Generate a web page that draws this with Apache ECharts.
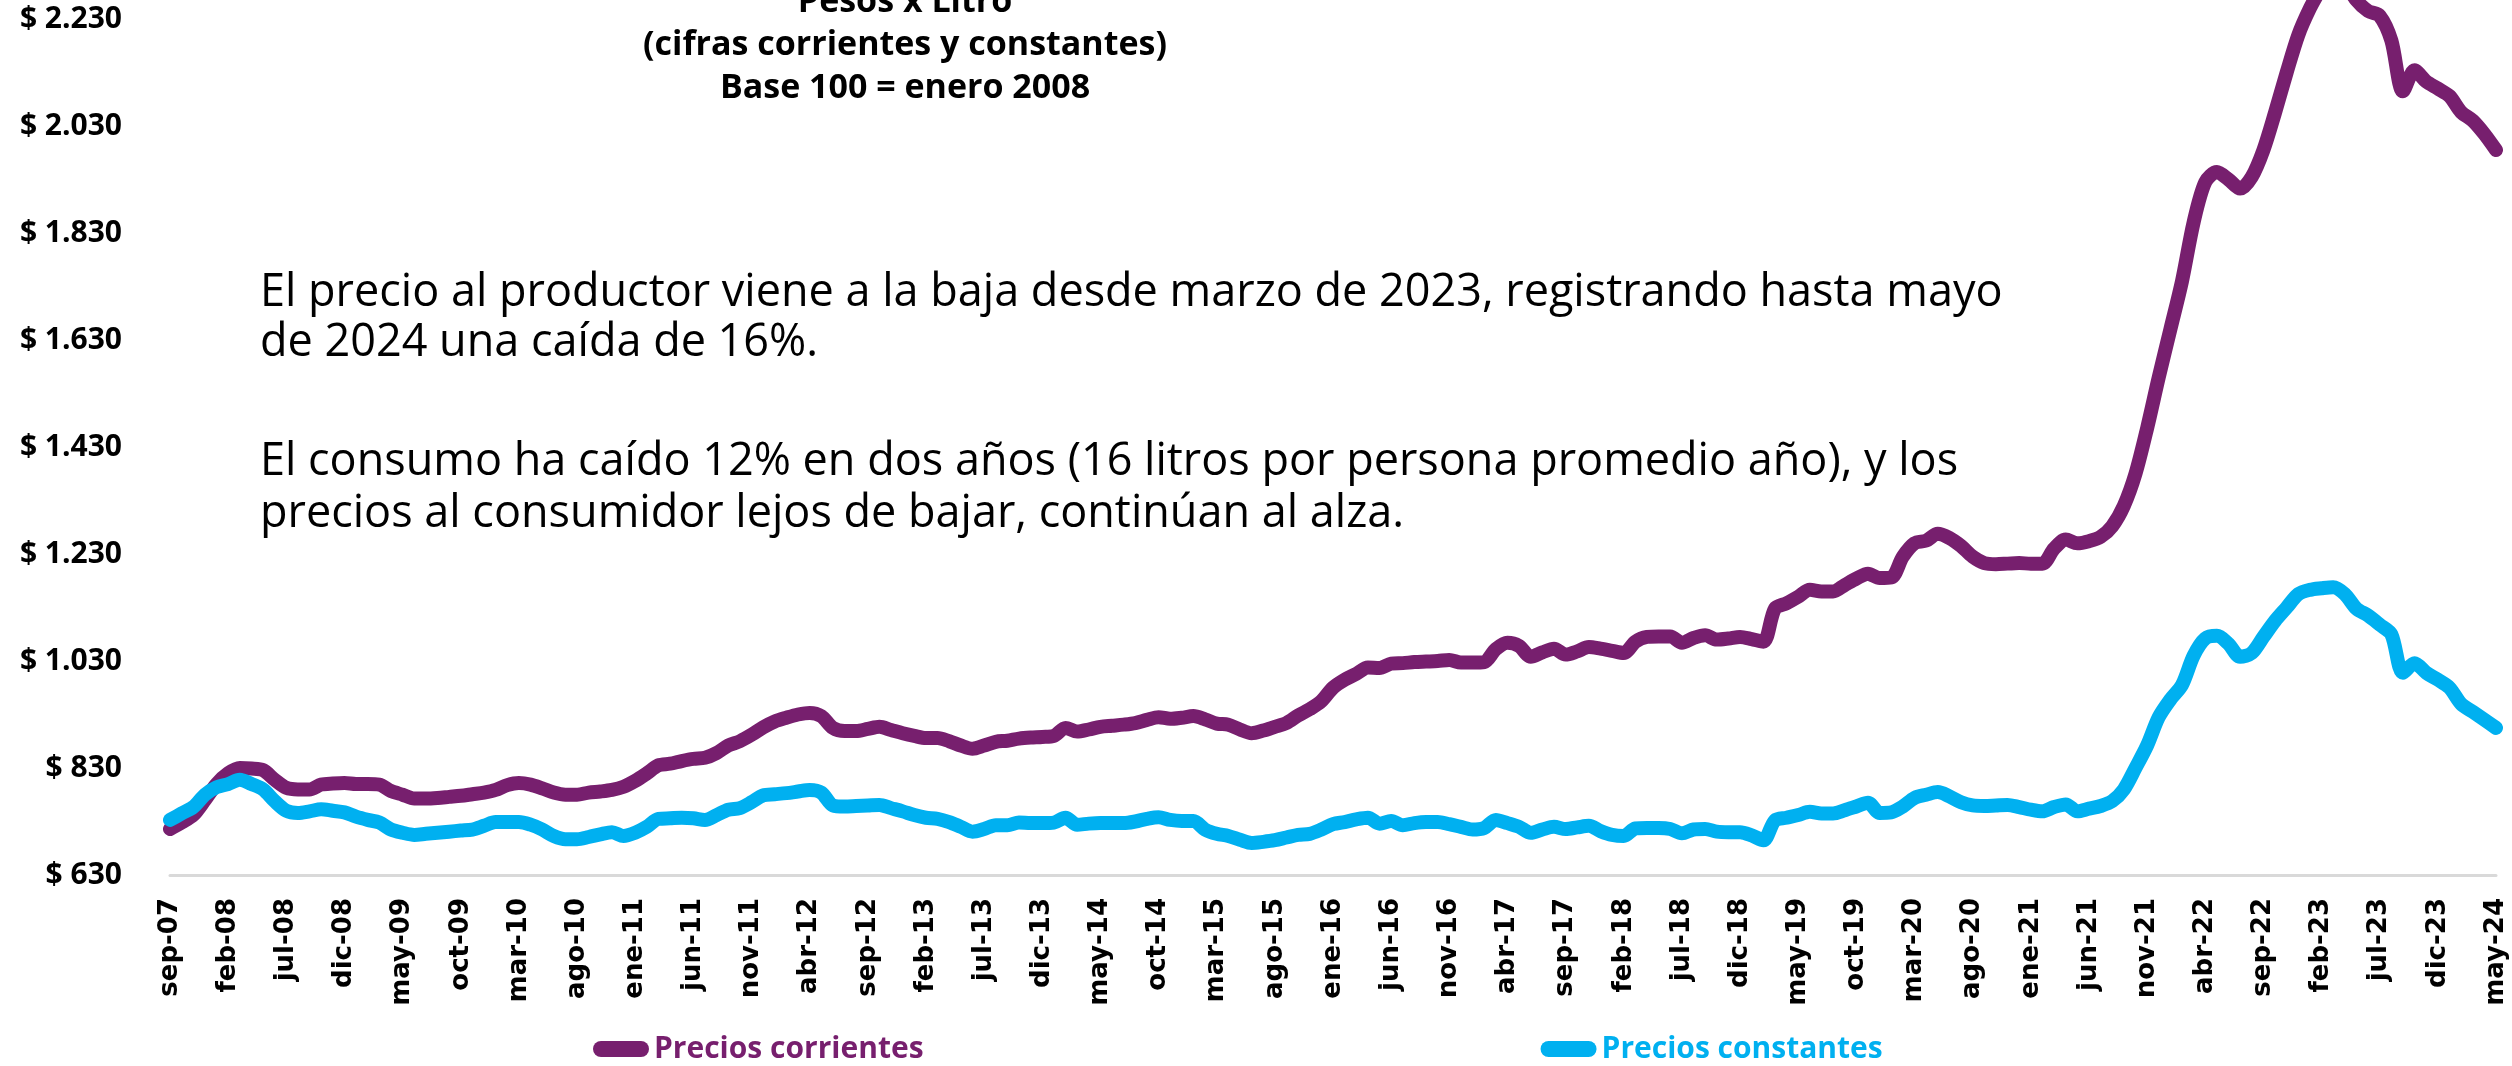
<!DOCTYPE html>
<html>
<head>
<meta charset="utf-8">
<title>Precios leche</title>
<script src="https://cdn.jsdelivr.net/npm/echarts/dist/echarts.min.js"></script>
<style>
  html, body { margin: 0; padding: 0; background: #fff; }
  #chart { width: 2512px; height: 1066px; }
</style>
</head>
<body>
<div id="chart"></div>
<script>
// meses en español, la serie va de sep-07 a may-24
const monthNames = ['ene', 'feb', 'mar', 'abr', 'may', 'jun', 'jul', 'ago', 'sep', 'oct', 'nov', 'dic'];
const startYear = 2007;
const startMonth = 8; // sep
const nMonths = 201;

// Precios corrientes ($ por litro)
const corrientes = [
  716, 728, 742, 770, 800, 820, 830, 829, 826, 808,
  793, 790, 790, 799, 801, 802, 800, 800, 799, 787,
  780, 773, 773, 774, 776, 778, 781, 784, 789, 798,
  802, 799, 792, 784, 780, 780, 784, 786, 789, 795,
  806, 820, 835, 838, 843, 847, 849, 858, 872, 880,
  892, 906, 917, 924, 930, 933, 927, 905, 899, 899,
  903, 907, 901, 895, 890, 886, 886, 880, 872, 866,
  872, 879, 881, 885, 887, 888, 890, 905, 898, 902,
  907, 909, 911, 914, 920, 925, 922, 924, 927, 921,
  913, 911, 902, 895, 900, 907, 914, 928, 940, 955,
  980, 995, 1006, 1018, 1017, 1025, 1026, 1028, 1029, 1030,
  1032, 1027, 1027, 1028, 1052, 1064, 1058, 1038, 1046, 1053,
  1042, 1048, 1056, 1053, 1049, 1045, 1066, 1075, 1076, 1076,
  1064, 1073, 1078, 1070, 1072, 1075, 1071, 1066, 1128, 1138,
  1150, 1163, 1160, 1160, 1172, 1184, 1193, 1185, 1186, 1225,
  1250, 1255, 1268, 1260, 1245, 1225, 1213, 1211, 1212, 1213,
  1212, 1212, 1240, 1257, 1250, 1254, 1262, 1282, 1320, 1380,
  1465, 1560, 1650, 1740, 1850, 1925, 1944, 1930, 1913, 1935,
  1985, 2055, 2130, 2200, 2250, 2290, 2335, 2300, 2265, 2245,
  2236, 2190, 2095, 2134, 2113, 2100, 2086, 2056, 2040, 2015,
  1985
];

// Precios constantes (base 100 = enero 2008)
const constantes = [
  733, 745, 757, 780, 794, 800, 808, 800, 790, 768,
  750, 746, 749, 753, 750, 747, 739, 733, 728, 715,
  709, 705, 707, 709, 711, 713, 715, 722, 729, 729,
  729, 724, 715, 703, 697, 697, 701, 706, 710, 703,
  709, 720, 735, 736, 737, 736, 733, 742, 752, 755,
  766, 779, 781, 783, 786, 789, 784, 760, 758, 759,
  760, 761, 755, 749, 742, 737, 735, 729, 720, 711,
  716, 723, 723, 728, 727, 727, 728, 737, 724, 726,
  727, 727, 727, 730, 735, 738, 733, 731, 731, 715,
  707, 703, 696, 690, 692, 695, 700, 705, 707, 715,
  725, 729, 734, 737, 726, 731, 723, 727, 729, 729,
  725, 720, 715, 718, 733, 727, 720, 709, 715, 720,
  716, 719, 722, 712, 705, 703, 717, 718, 718, 716,
  708, 715, 716, 711, 710, 710, 704, 695, 732, 737,
  742, 748, 745, 745, 751, 758, 765, 746, 747, 758,
  774, 780, 785, 777, 766, 760, 759, 760, 761, 757,
  752, 749, 757, 762, 749, 754, 759, 768, 790, 830,
  872, 925, 958, 985, 1040, 1072, 1077, 1062, 1038, 1045,
  1075, 1105, 1130, 1155, 1163, 1166, 1168, 1155, 1128, 1115,
  1098, 1080, 1008, 1026, 1008, 995, 980, 950, 935, 920,
  905
];

const yTicks = { min: 630, max: 2230, step: 200 };

const titleLines = ['Pesos x Litro', '(cifras corrientes y constantes)', 'Base 100 = enero 2008'];
const nota1 = 'El precio al productor viene a la baja desde marzo de 2023, registrando hasta mayo\nde 2024 una caída de 16%.';
const nota2 = 'El consumo ha caído 12% en dos años (16 litros por persona promedio año), y los\nprecios al consumidor lejos de bajar, continúan al alza.';

const colorCorr = '#771F6E';
const colorCons = '#00B0F0';

let categories = [];
for (let i = 0; i < nMonths; i++) {
  const m = (startMonth + i) % 12;
  const y = startYear + Math.floor((startMonth + i) / 12);
  categories.push(monthNames[m] + '-' + String(y % 100).padStart(2, '0'));
}

function formatPeso(v) {
  const s = String(v);
  return '$ ' + (s.length > 3 ? s.slice(0, s.length - 3) + '.' + s.slice(-3) : s);
}

const pill = 'path://M8,0 H48 A8,8 0 0 1 48,16 H8 A8,8 0 0 1 8,0 Z';

const chart = echarts.init(document.getElementById('chart'));

const option = {
  animation: false,
  backgroundColor: '#ffffff',
  grid: { left: 170, right: 16, top: 19, bottom: 191, containLabel: false },
  xAxis: {
    type: 'category',
    data: categories,
    boundaryGap: false,
    axisLine: { show: true, lineStyle: { color: '#d9d9d9', width: 3 } },
    axisTick: { show: false },
    axisLabel: {
      interval: 4,
      rotate: 90,
      margin: 23,
      color: '#000',
      fontFamily: 'DejaVu Sans',
      fontWeight: 'bold',
      fontSize: 26
    },
    splitLine: { show: false }
  },
  yAxis: {
    type: 'value',
    min: yTicks.min,
    max: yTicks.max,
    interval: yTicks.step,
    axisLine: { show: false },
    axisTick: { show: false },
    splitLine: { show: false },
    axisLabel: {
      formatter: formatPeso,
      margin: 48,
      color: '#000',
      fontFamily: 'Open Sans',
      fontWeight: 'bold',
      fontSize: 30
    }
  },
  legend: {
    bottom: 2,
    left: 593,
    padding: 0,
    itemGap: 617,
    itemWidth: 56,
    itemHeight: 16,
    icon: pill,
    textStyle: { fontFamily: 'Open Sans', fontWeight: 'bold', fontSize: 30 },
    data: [
      { name: 'Precios corrientes', textStyle: { color: colorCorr } },
      { name: 'Precios constantes', textStyle: { color: colorCons } }
    ]
  },
  graphic: [
    {
      type: 'text',
      x: 905,
      y: 45,
      style: {
        text: titleLines.join('\n'),
        align: 'center',
        verticalAlign: 'middle',
        lineHeight: 43,
        fontFamily: 'Open Sans',
        fontWeight: 'bold',
        fontSize: 34,
        fill: '#000'
      }
    },
    {
      type: 'text',
      x: 260,
      y: 268,
      style: {
        text: nota1,
        lineHeight: 50,
        fontFamily: 'Open Sans',
        fontSize: 45,
        fill: '#000'
      }
    },
    {
      type: 'text',
      x: 260,
      y: 436,
      style: {
        text: nota2,
        lineHeight: 52,
        fontFamily: 'Open Sans',
        fontSize: 45,
        fill: '#000'
      }
    }
  ],
  series: [
    {
      name: 'Precios corrientes',
      type: 'line',
      data: corrientes,
      smooth: 0.3,
      symbol: 'none',
      clip: false,
      lineStyle: { color: colorCorr, width: 14, cap: 'round', join: 'round' },
      itemStyle: { color: colorCorr }
    },
    {
      name: 'Precios constantes',
      type: 'line',
      data: constantes,
      smooth: 0.3,
      symbol: 'none',
      clip: false,
      lineStyle: { color: colorCons, width: 14, cap: 'round', join: 'round' },
      itemStyle: { color: colorCons }
    }
  ]
};

chart.setOption(option);
</script>
</body>
</html>
